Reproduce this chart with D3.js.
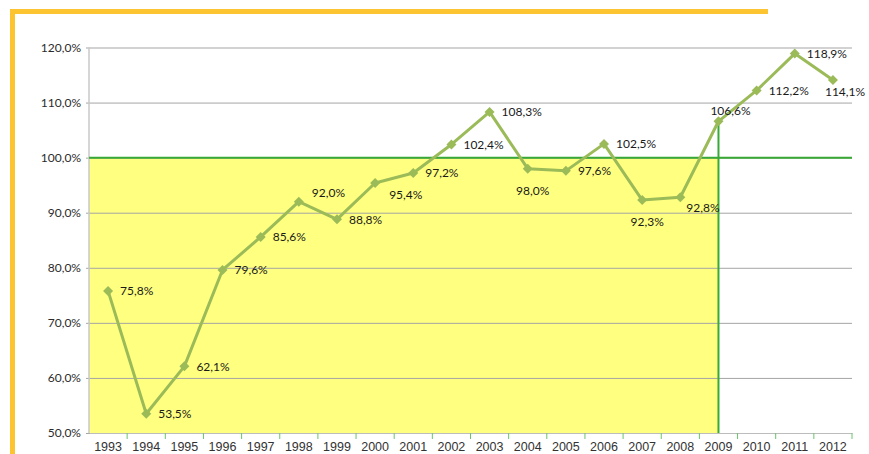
<!DOCTYPE html>
<html>
<head>
<meta charset="utf-8">
<script src="https://cdn.jsdelivr.net/npm/d3@7"></script>
<style>
  body { margin: 0; background: #fff; }
  svg { display: block; }
</style>
</head>
<body>
<figure id="chart" style="margin:0"></figure>
<script>
// years on the x axis
var years = ["1993", "1994", "1995", "1996", "1997", "1998", "1999", "2000", "2001", "2002",
  "2003", "2004", "2005", "2006", "2007", "2008", "2009", "2010", "2011", "2012"];
// percentage per year
var values = [75.8, 53.5, 62.1, 79.6, 85.6, 92.0, 88.8, 95.4, 97.2, 102.4,
  108.3, 98.0, 97.6, 102.5, 92.3, 92.8, 106.6, 112.2, 118.9, 114.1];
// where each data label sits relative to its point
var labelSide = ["right", "right", "right", "right", "right", "upright", "right", "downright", "right", "right",
  "right", "below", "right", "right", "below", "downnear", "above", "right", "right", "downleft"];
var yTicks = [50, 60, 70, 80, 90, 100, 110, 120];
var refValue = 100;      // horizontal reference line
var refYear = "2009";    // vertical reference line

var dimensions = {
  width: 869,
  height: 454,
  margin: { top: 47.5, right: 17, bottom: 21, left: 89 }
};
dimensions.boundedWidth = dimensions.width - dimensions.margin.left - dimensions.margin.right;
dimensions.boundedHeight = dimensions.height - dimensions.margin.top - dimensions.margin.bottom;

var fmt = d3.formatLocale({ decimal: ",", thousands: ".", grouping: [3], currency: ["", ""] }).format(".1f");

var svg = d3.select("figure#chart")
  .append("svg")
  .attr("width", dimensions.width)
  .attr("height", dimensions.height);

// orange frame pieces
svg.append("rect").attr("x", 10).attr("y", 9).attr("width", 758).attr("height", 5).attr("fill", "#fdc432");
svg.append("rect").attr("x", 10).attr("y", 9).attr("width", 5).attr("height", 445).attr("fill", "#fdc432");

var chart = svg.append("g")
  .attr("transform", `translate(${dimensions.margin.left},${dimensions.margin.top})`);

var xScale = d3.scaleBand()
  .domain(years)
  .range([0, dimensions.boundedWidth]);

var yScale = d3.scaleLinear()
  .domain([50, 120])
  .range([dimensions.boundedHeight, 0]);

var cx = d => xScale(d) + xScale.bandwidth() / 2;

// yellow area below the reference, up to the reference year
chart.append("rect")
  .attr("x", 0)
  .attr("y", yScale(refValue))
  .attr("width", cx(refYear))
  .attr("height", yScale(50) - yScale(refValue))
  .attr("fill", "#ffff80");

// gridlines + y labels
var yAxis = chart.append("g")
  .call(d3.axisLeft(yScale)
    .tickValues(yTicks)
    .tickSize(-dimensions.boundedWidth)
    .tickPadding(8)
    .tickFormat(d => fmt(d) + "%"))
  .call(g => g.select(".domain").remove());
yAxis.selectAll(".tick line")
  .attr("x1", -3)
  .attr("stroke", "#a5a5a5");
yAxis.selectAll(".tick text")
  .style("font-family", "Lato, 'Open Sans', sans-serif")
  .style("font-size", "12px")
  .style("fill", "#2b2b2b");

// left axis line
chart.append("line")
  .attr("x1", 0).attr("x2", 0)
  .attr("y1", 0).attr("y2", dimensions.boundedHeight)
  .attr("stroke", "#c8c8c8").attr("stroke-width", 1.5);

// x axis
var xAxis = chart.append("g")
  .attr("transform", `translate(0, ${dimensions.boundedHeight})`)
  .call(d3.axisBottom(xScale).tickSize(0).tickPadding(9));
xAxis.select(".domain").attr("stroke", "#bdbdbd");
xAxis.selectAll("text")
  .style("font-family", "'Liberation Sans Narrow', 'Arial Narrow', sans-serif")
  .style("font-size", "12.5px")
  .style("fill", "#333");
// green tick marks between categories
chart.selectAll("line.xtick")
  .data(years)
  .enter()
  .append("line")
  .attr("class", "xtick")
  .attr("x1", d => xScale(d) + xScale.bandwidth())
  .attr("x2", d => xScale(d) + xScale.bandwidth())
  .attr("y1", dimensions.boundedHeight)
  .attr("y2", dimensions.boundedHeight + 6)
  .attr("stroke", "#6cc46a")
  .attr("stroke-width", 1);

// reference lines
chart.append("line")
  .attr("x1", 0).attr("x2", dimensions.boundedWidth)
  .attr("y1", yScale(refValue)).attr("y2", yScale(refValue))
  .attr("stroke", "#38a935").attr("stroke-width", 2);
chart.append("line")
  .attr("x1", cx(refYear)).attr("x2", cx(refYear))
  .attr("y1", yScale(values[years.indexOf(refYear)])).attr("y2", dimensions.boundedHeight)
  .attr("stroke", "#38a935").attr("stroke-width", 2);

var data = years.map((y, i) => ({ year: y, value: values[i], side: labelSide[i] }));

// the series line
chart.append("path")
  .datum(data)
  .attr("fill", "none")
  .attr("stroke", "#9bbb59")
  .attr("stroke-width", 3)
  .attr("stroke-linejoin", "round")
  .attr("d", d3.line().x(d => cx(d.year)).y(d => yScale(d.value)));

// diamond markers
chart.selectAll("path.marker")
  .data(data)
  .enter()
  .append("path")
  .attr("class", "marker")
  .attr("transform", d => `translate(${cx(d.year)},${yScale(d.value)})`)
  .attr("d", "M0,-5L5,0L0,5L-5,0Z")
  .attr("fill", "#9bbb59");

// data labels
var offsets = {
  right: [12, 0, "start"],
  upright: [13, -9, "start"],
  downright: [14, 12, "start"],
  downnear: [6, 11, "start"],
  downleft: [-8, 12, "start"],
  below: [5, 22, "middle"],
  above: [12, -10, "middle"]
};
chart.selectAll("text.lbl")
  .data(data)
  .enter()
  .append("text")
  .attr("class", "lbl")
  .attr("x", d => cx(d.year) + offsets[d.side][0])
  .attr("y", d => yScale(d.value) + offsets[d.side][1])
  .attr("dy", "0.35em")
  .attr("text-anchor", d => offsets[d.side][2])
  .style("font-family", "Lato, 'Open Sans', sans-serif")
  .style("font-size", "12px")
  .style("fill", "#1a1a1a")
  .text(d => fmt(d.value) + "%");
</script>
</body>
</html>
